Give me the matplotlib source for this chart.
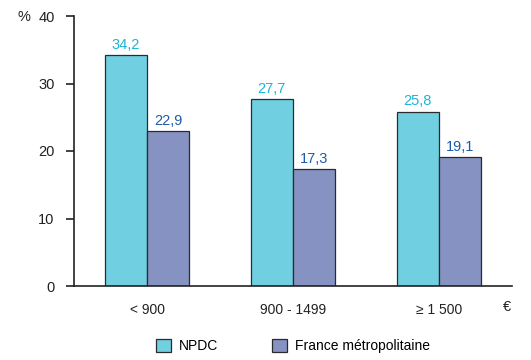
import matplotlib
matplotlib.use("Agg")
import matplotlib.pyplot as plt
import numpy as np
from matplotlib.patches import Patch

plt.rcParams['font.family'] = ['Liberation Sans', 'DejaVu Sans']

categories = ["< 900", "900 - 1499", "\u2265 1 500"]
npdc = [34.2, 27.7, 25.8]
france = [22.9, 17.3, 19.1]
series_names = ["NPDC", "France métropolitaine"]

c_npdc = "#70CFE0"
c_fr = "#8592C2"
t_npdc = "#1EB4D6"
t_fr = "#1C5CA6"
edge = "#2b2b2b"

fig = plt.figure(figsize=(5.31, 3.60), dpi=100)
ax = fig.add_axes([74/531, 74/360, 438/531, 270/360])

x = np.arange(len(categories))
w = 0.29
b1 = ax.bar(x - w/2, npdc, w, color=c_npdc, edgecolor=edge, linewidth=0.9)
b2 = ax.bar(x + w/2, france, w, color=c_fr, edgecolor=edge, linewidth=0.9)

for rect, v in zip(b1, npdc):
    ax.text(rect.get_x() + rect.get_width()/2, v + 0.5, f"{v:.1f}".replace(".", ","),
            ha="center", va="bottom", color=t_npdc, fontsize=10.5)
for rect, v in zip(b2, france):
    ax.text(rect.get_x() + rect.get_width()/2, v + 0.5, f"{v:.1f}".replace(".", ","),
            ha="center", va="bottom", color=t_fr, fontsize=10.5)

ax.set_xlim(-0.5, 2.5)
ax.set_ylim(0, 40)
ax.set_yticks([0, 10, 20, 30, 40])
ax.set_xticks(x)
ax.set_xticklabels(categories)
ax.tick_params(axis="x", length=0, pad=12, labelsize=10, colors="#222222")
ax.tick_params(axis="y", length=6, width=1.2, direction="out", pad=8, labelsize=10.5,
               colors="#222222")
for s in ("top", "right"):
    ax.spines[s].set_visible(False)
ax.spines["left"].set_linewidth(1.2)
ax.spines["bottom"].set_linewidth(1.2)
ax.spines["left"].set_color("#222222")
ax.spines["bottom"].set_color("#222222")

fig.text(17/531, 1 - 17/360, "%", ha="left", va="center", fontsize=10.5, color="#222222")
fig.text(503/531, 1 - 307/360, "\u20ac", ha="left", va="center", fontsize=10.5, color="#222222")

handles = [Patch(facecolor=c_npdc, edgecolor=edge, linewidth=0.9),
           Patch(facecolor=c_fr, edgecolor=edge, linewidth=0.9)]
fig.legend(handles, series_names, loc="center", bbox_to_anchor=(293/531, 1 - 346/360),
           ncol=2, frameon=False, fontsize=10, handlelength=1.1, handleheight=1.1,
           columnspacing=3.9, handletextpad=0.55, borderpad=0, borderaxespad=0)

fig.savefig("out.png", dpi=100, facecolor="white")
